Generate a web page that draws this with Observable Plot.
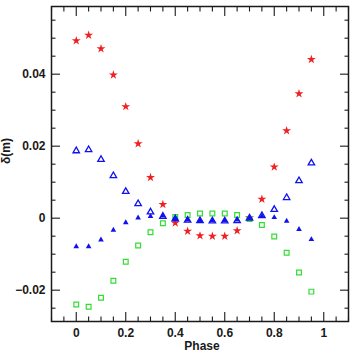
<!DOCTYPE html>
<html>
<head>
<meta charset="utf-8">
<script src="https://cdn.jsdelivr.net/npm/d3@7"></script>
<script src="https://cdn.jsdelivr.net/npm/@observablehq/plot@0.6"></script>
<style>
  html, body { margin: 0; padding: 0; background: #fff; overflow: hidden; }
</style>
</head>
<body>
<div id="chart"></div>
<script>
const phase = [0, 0.05, 0.1, 0.15, 0.2, 0.25, 0.3, 0.35, 0.4, 0.45, 0.5, 0.55, 0.6, 0.65, 0.7, 0.75, 0.8, 0.85, 0.9, 0.95];
const redStars = [0.0493, 0.0508, 0.0471, 0.0398, 0.0310, 0.0207, 0.0113, 0.0038, -0.0013, -0.0036, -0.0049, -0.0050, -0.0050, -0.0035, 0.0001, 0.0053, 0.0142, 0.0243, 0.0346, 0.0441];
const blueOpenTriangles = [0.0187, 0.0190, 0.0163, 0.0118, 0.0074, 0.0040, 0.0017, 0.0005, -0.0002, -0.0006, -0.0007, -0.0008, -0.0008, -0.0007, 0.0000, 0.0007, 0.0024, 0.0057, 0.0104, 0.0153];
const blueFilledTriangles = [-0.0079, -0.0079, -0.0060, -0.0033, -0.0012, 0.0001, 0.0005, 0.0007, -0.0001, -0.0005, -0.0006, -0.0006, -0.0006, -0.0005, 0.0000, 0.0006, 0.0002, -0.0008, -0.0031, -0.0059];
const greenSquares = [-0.0240, -0.0246, -0.0221, -0.0174, -0.0121, -0.0076, -0.0039, -0.0014, 0.0003, 0.0009, 0.0013, 0.0013, 0.0013, 0.0009, -0.0002, -0.0019, -0.0051, -0.0096, -0.0151, -0.0204];

const xMajorTicks = [0, 0.2, 0.4, 0.6, 0.8, 1];
const xTickLabels = ["0", "0.2", "0.4", "0.6", "0.8", "1"];
const xMinorTicks = [-0.1, -0.05, 0.05, 0.1, 0.15, 0.25, 0.3, 0.35, 0.45, 0.5, 0.55, 0.65, 0.7, 0.75, 0.85, 0.9, 0.95, 1.05, 1.1];
const yMajorTicks = [-0.02, 0, 0.02, 0.04];
const yTickLabels = ["\u22120.02", "0", "0.02", "0.04"];
const yMinorTicks = [-0.025, -0.015, -0.01, -0.005, 0.005, 0.01, 0.015, 0.025, 0.03, 0.035, 0.045, 0.05, 0.055];
const xLabel = "Phase";
const yLabel = "δ(m)";

const toRows = (vals) => phase.map((p, i) => ({phase: p, value: vals[i]}));

const chart = Plot.plot({
  width: 352,
  height: 352,
  marginLeft: 51,
  marginRight: 4,
  marginTop: 6,
  marginBottom: 31,
  style: {fontFamily: "'Liberation Sans', Arial, sans-serif", fontSize: "12px", fontWeight: "bold", color: "#1a1a1a"},
  x: {domain: [-0.1, 1.1]},
  y: {domain: [-0.0287, 0.0588]},
  marks: [
    // ticks (inward) on all four sides
    Plot.axisX(xMajorTicks, {anchor: "bottom", tickSize: -9, fill: "none", label: null, strokeWidth: 1.1}),
    Plot.axisX(xMajorTicks, {anchor: "top", tickSize: -9, fill: "none", label: null, strokeWidth: 1.1}),
    Plot.axisX(xMinorTicks, {anchor: "bottom", tickSize: -4.5, fill: "none", label: null, strokeWidth: 1.1}),
    Plot.axisX(xMinorTicks, {anchor: "top", tickSize: -4.5, fill: "none", label: null, strokeWidth: 1.1}),
    Plot.axisY(yMajorTicks, {anchor: "left", tickSize: -9, fill: "none", label: null, strokeWidth: 1.1}),
    Plot.axisY(yMajorTicks, {anchor: "right", tickSize: -9, fill: "none", label: null, strokeWidth: 1.1}),
    Plot.axisY(yMinorTicks, {anchor: "left", tickSize: -4.5, fill: "none", label: null, strokeWidth: 1.1}),
    Plot.axisY(yMinorTicks, {anchor: "right", tickSize: -4.5, fill: "none", label: null, strokeWidth: 1.1}),
    // tick labels
    Plot.axisX(xMajorTicks, {anchor: "bottom", tickSize: 0, tickPadding: 7, label: null,
      tickFormat: (d) => xTickLabels[xMajorTicks.indexOf(d)]}),
    Plot.axisY(yMajorTicks, {anchor: "left", tickSize: 0, tickPadding: 6, label: null,
      tickFormat: (d) => yTickLabels[yMajorTicks.indexOf(d)]}),
    // axis titles
    Plot.text([xLabel], {frameAnchor: "bottom", dx: 2, dy: 28, lineAnchor: "bottom", fontSize: 12, fontWeight: "bold"}),
    Plot.text([yLabel], {frameAnchor: "left", dx: -50, dy: 0, rotate: -90, lineAnchor: "top", fontSize: 12, fontWeight: "bold"}),
    // data
    Plot.dot(toRows(redStars), {x: "phase", y: "value", symbol: "star", r: 2.8, fill: "#f02020", stroke: "none"}),
    Plot.dot(toRows(greenSquares), {x: "phase", y: "value", symbol: "square", r: 2.7, fill: "none", stroke: "#33dd33", strokeWidth: 1.2}),
    Plot.dot(toRows(blueOpenTriangles), {x: "phase", y: "value", symbol: "triangle", r: 2.4, fill: "none", stroke: "#1111ee", strokeWidth: 1.3}),
    Plot.dot(toRows(blueFilledTriangles), {x: "phase", y: "value", symbol: "triangle", r: 2.1, fill: "#1111ee", stroke: "none"}),
    Plot.frame({stroke: "#1a1a1a", strokeWidth: 1.5})
  ]
});
document.getElementById("chart").appendChild(chart);
</script>
</body>
</html>
